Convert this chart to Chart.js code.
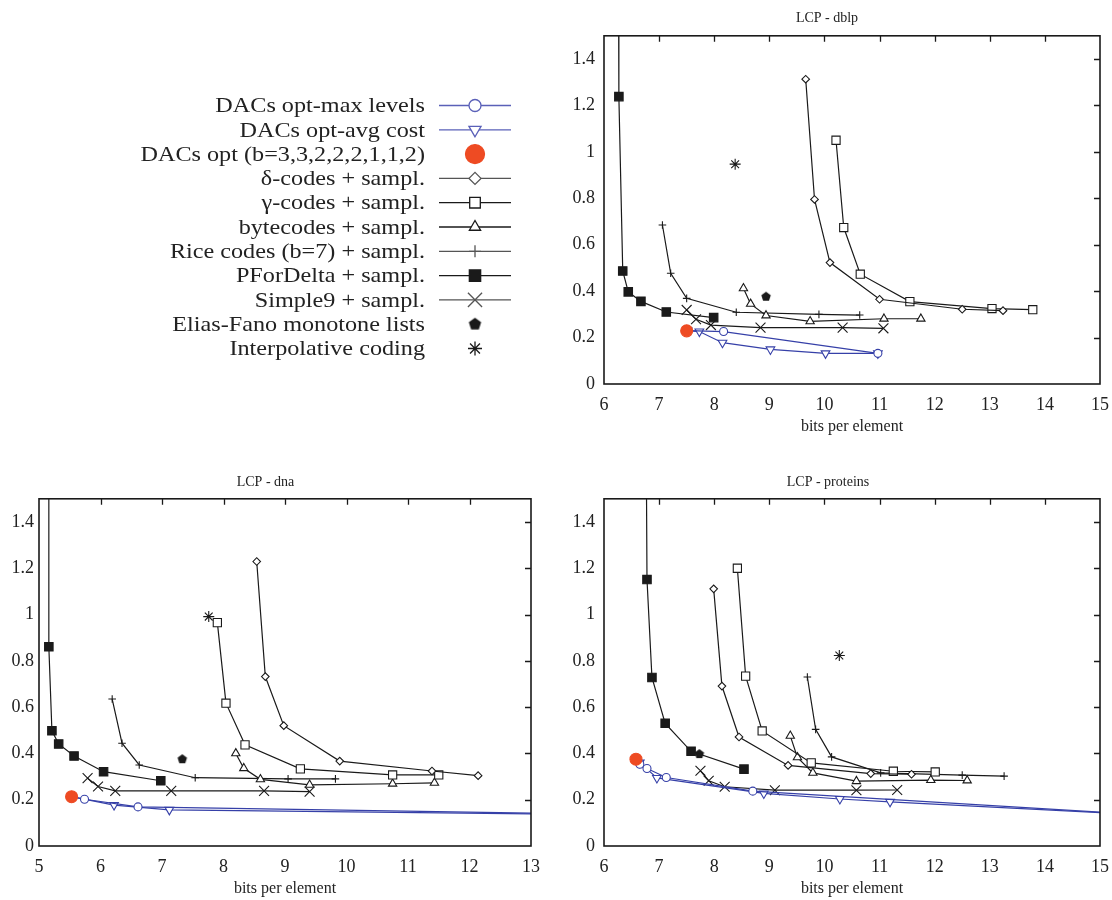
<!DOCTYPE html>
<html>
<head>
<meta charset="utf-8">
<script src="https://cdn.jsdelivr.net/npm/chart.js@4.4.1/dist/chart.umd.min.js"></script>
<style>
body { margin: 0; background: #fff; width: 1112px; height: 900px; position: relative; overflow: hidden; }
canvas { position: absolute; }
</style>
</head>
<body>
<canvas id="dblp" width="1112" height="450" style="left:0;top:0"></canvas>
<canvas id="dna" width="556" height="450" style="left:0;top:450px"></canvas>
<canvas id="proteins" width="556" height="450" style="left:556px;top:450px"></canvas>
<script>
// series names, same order in every panel
const seriesNames = ['DACs opt-max levels', 'DACs opt-avg cost', 'DACs opt (b=3,3,2,2,2,1,1,2)',
  'δ-codes + sampl.', 'γ-codes + sampl.', 'bytecodes + sampl.', 'Rice codes (b=7) + sampl.',
  'PForDelta + sampl.', 'Simple9 + sampl.', 'Elias-Fano monotone lists', 'Interpolative coding'];

const yTicks = [0, 0.2, 0.4, 0.6, 0.8, 1, 1.2, 1.4];

// LCP - dblp   [bits per element, time]
const dblpMaxLevels = [[7.52, 0.230], [8.17, 0.226], [10.97, 0.132]];
const dblpAvgCost = [[7.52, 0.230], [7.73, 0.226], [8.15, 0.178], [9.02, 0.149], [10.02, 0.132], [10.97, 0.132]];
const dblpDacsOpt = [[7.50, 0.229]];
const dblpDelta = [[9.66, 1.313], [9.82, 0.795], [10.10, 0.523], [11.00, 0.365], [12.50, 0.322], [13.24, 0.316]];
const dblpGamma = [[10.21, 1.050], [10.35, 0.674], [10.65, 0.473], [11.55, 0.355], [13.04, 0.325], [13.78, 0.320]];
const dblpByte = [[8.53, 0.412], [8.66, 0.345], [8.94, 0.295], [9.74, 0.270], [11.08, 0.281], [11.75, 0.281]];
const dblpRice = [[7.06, 0.685], [7.21, 0.477], [7.50, 0.369], [8.40, 0.309], [9.90, 0.300], [10.64, 0.297]];
const dblpPFor = [[6.26, 2.0], [6.27, 1.238], [6.34, 0.487], [6.44, 0.397], [6.67, 0.356], [7.13, 0.310], [7.99, 0.286]];
const dblpSimple9 = [[7.50, 0.319], [7.67, 0.279], [7.94, 0.254], [8.84, 0.243], [10.33, 0.243], [11.07, 0.240]];
const dblpEliasFano = [[8.94, 0.376]];
const dblpInterp = [[8.38, 0.947]];

// LCP - dna
const dnaMaxLevels = [[5.53, 0.213], [5.74, 0.202], [6.61, 0.169], [16, 0.130]];
const dnaAvgCost = [[5.53, 0.213], [6.22, 0.177], [7.12, 0.156], [16, 0.130]];
const dnaDacsOpt = [[5.53, 0.213]];
const dnaDelta = [[8.54, 1.229], [8.68, 0.732], [8.98, 0.520], [9.89, 0.367], [11.39, 0.324], [12.14, 0.304]];
const dnaGamma = [[7.90, 0.965], [8.04, 0.617], [8.35, 0.437], [9.25, 0.333], [10.75, 0.307], [11.50, 0.307]];
const dnaByte = [[8.20, 0.400], [8.33, 0.336], [8.60, 0.288], [9.40, 0.264], [10.75, 0.269], [11.43, 0.273]];
const dnaRice = [[6.19, 0.635], [6.35, 0.444], [6.63, 0.350], [7.54, 0.295], [9.05, 0.290], [9.82, 0.290]];
const dnaPFor = [[5.16, 2.0], [5.16, 0.861], [5.21, 0.498], [5.32, 0.441], [5.57, 0.389], [6.05, 0.321], [6.98, 0.282]];
const dnaSimple9 = [[5.79, 0.293], [5.96, 0.257], [6.24, 0.238], [7.15, 0.238], [8.66, 0.238], [9.40, 0.235]];
const dnaEliasFano = [[7.33, 0.375]];
const dnaInterp = [[7.76, 0.991]];

// LCP - proteins
const protMaxLevels = [[6.58, 0.375], [6.65, 0.353], [6.78, 0.335], [7.13, 0.296], [8.70, 0.237], [16, 0.132]];
const protAvgCost = [[6.58, 0.375], [6.65, 0.360], [6.96, 0.294], [8.90, 0.227], [10.28, 0.203], [11.19, 0.191], [16, 0.132]];
const protDacsOpt = [[6.58, 0.375]];
const protDelta = [[7.99, 1.111], [8.14, 0.691], [8.45, 0.471], [9.34, 0.348], [10.84, 0.313], [11.58, 0.310]];
const protGamma = [[8.42, 1.200], [8.57, 0.734], [8.87, 0.497], [9.76, 0.359], [11.25, 0.323], [12.01, 0.320]];
const protByte = [[9.38, 0.476], [9.51, 0.383], [9.79, 0.316], [10.58, 0.280], [11.93, 0.285], [12.59, 0.283]];
const protRice = [[9.69, 0.730], [9.84, 0.504], [10.13, 0.385], [11.02, 0.316], [12.50, 0.306], [13.26, 0.302]];
const protPFor = [[6.76, 2.0], [6.78, 1.151], [6.87, 0.728], [7.11, 0.530], [7.58, 0.409], [8.54, 0.332]];
const protSimple9 = [[7.75, 0.325], [7.90, 0.282], [8.19, 0.256], [9.10, 0.241], [10.58, 0.241], [11.32, 0.242]];
const protEliasFano = [[7.73, 0.397]];
const protInterp = [[10.27, 0.823]];

const SERIF = "'Liberation Serif', 'DejaVu Serif', serif";
const INK = '#1a1a1a';
const BLUE = '#3640a8';
const RED = '#ee4b23';

function pentagon(r) {
  const c = document.createElement('canvas');
  const s = Math.ceil(r * 2 + 2);
  c.width = s; c.height = s;
  const g = c.getContext('2d');
  g.fillStyle = INK;
  g.beginPath();
  for (let k = 0; k < 5; k++) {
    const a = -Math.PI / 2 + k * 2 * Math.PI / 5;
    g.lineTo(s / 2 + r * Math.cos(a), s / 2 + r * Math.sin(a));
  }
  g.closePath();
  g.fill();
  return c;
}

// marker look for each series (plot size r, legend size lr)
const looks = [
  { color: BLUE, point: 'circle', r: 4, lr: 6, fill: '#fff', line: true, legendColor: '#5a60b8' },
  { color: BLUE, point: 'triangle', rot: 180, r: 5, lr: 7, fill: '#fff', line: true, legendColor: '#5a60b8' },
  { color: RED, point: 'circle', r: 6, lr: 9.5, fill: RED, line: false },
  { color: INK, point: 'rectRot', r: 3.8, lr: 6, fill: '#fff', line: true, legendColor: '#555' },
  { color: INK, point: 'rect', r: 5.8, lr: 7.5, fill: '#fff', line: true },
  { color: INK, point: 'triangle', r: 4.8, lr: 6.5, fill: '#fff', line: true },
  { color: INK, point: 'cross', r: 3.8, lr: 6, line: true, legendColor: '#555' },
  { color: INK, point: 'rect', r: 6, lr: 8, fill: INK, line: true },
  { color: INK, point: 'crossRot', r: 7, lr: 10, line: true, legendColor: '#555' },
  { color: INK, point: pentagon(5), legendPoint: pentagon(6.5), line: false },
  { color: INK, point: 'star', r: 5.5, lr: 7, line: false }
];

function build(series) {
  return series.map((pts, i) => {
    const s = looks[i];
    return {
      label: seriesNames[i],
      data: pts.map(p => ({ x: p[0], y: p[1] })),
      showLine: s.line,
      borderColor: s.color,
      borderWidth: 1.2,
      pointStyle: s.point,
      pointRadius: s.r || 4,
      pointRotation: s.rot || 0,
      pointBackgroundColor: s.fill || 'rgba(0,0,0,0)',
      pointBorderColor: s.color,
      pointBorderWidth: 1.1,
      order: i === 2 ? -1 : i
    };
  });
}

// border box with inward ticks on top and right
const framePlugin = {
  id: 'frame',
  afterDatasetsDraw(chart) {
    const { ctx, chartArea: a, scales } = chart;
    ctx.save();
    ctx.strokeStyle = INK;
    ctx.lineWidth = 1.3;
    ctx.beginPath();
    scales.x.ticks.forEach(t => {
      if (t.value <= scales.x.min || t.value >= scales.x.max) return;
      const px = Math.round(scales.x.getPixelForValue(t.value)) + 0.5;
      ctx.moveTo(px, a.top); ctx.lineTo(px, a.top + 6);
    });
    scales.y.ticks.forEach(t => {
      if (t.value <= scales.y.min || t.value >= scales.y.max) return;
      const py = Math.round(scales.y.getPixelForValue(t.value)) + 0.5;
      ctx.moveTo(a.right, py); ctx.lineTo(a.right - 6, py);
    });
    ctx.stroke();
    ctx.lineWidth = 1.6;
    ctx.strokeRect(a.left, a.top, a.right - a.left, a.bottom - a.top);
    ctx.restore();
  }
};

// legend drawn to the left of the dblp panel
const legendPlugin = {
  id: 'sideLegend',
  afterDraw(chart) {
    const ctx = chart.ctx;
    ctx.save();
    ctx.textAlign = 'right';
    ctx.textBaseline = 'middle';
    seriesNames.forEach((name, i) => {
      const s = looks[i];
      const y = 105.5 + i * 24.3;
      ctx.save();
      ctx.font = '22px ' + SERIF;
      ctx.fillStyle = '#222';
      ctx.translate(425, y + 1);
      ctx.scale(1.1, 1);
      ctx.fillText(name, 0, 0);
      ctx.restore();
      if (s.line) {
        ctx.strokeStyle = s.legendColor || s.color;
        ctx.lineWidth = 1.3;
        ctx.beginPath();
        ctx.moveTo(439, y); ctx.lineTo(511, y);
        ctx.stroke();
      }
      ctx.strokeStyle = s.legendColor || s.color;
      ctx.fillStyle = s.fill || 'rgba(0,0,0,0)';
      ctx.lineWidth = 1.3;
      Chart.helpers.drawPoint(ctx, {
        pointStyle: s.legendPoint || s.point,
        radius: s.lr || 6,
        rotation: s.rot || 0,
        borderWidth: 1.3
      }, 475, y);
    });
    ctx.restore();
  }
};

function makeChart(id, title, series, xmin, xmax, yWidth, yPad, pad, titlePad, extraPlugins) {
  const tickFont = { family: SERIF, size: 18 };
  return new Chart(document.getElementById(id), {
    type: 'scatter',
    data: { datasets: build(series) },
    options: {
      responsive: false,
      animation: false,
      layout: { padding: pad, autoPadding: false },
      plugins: {
        legend: { display: false },
        tooltip: { enabled: false },
        title: {
          display: true, text: title, color: '#222',
          font: { family: SERIF, size: 14, weight: 'normal' },
          padding: titlePad
        }
      },
      scales: {
        x: {
          type: 'linear', min: xmin, max: xmax,
          grid: { display: false }, border: { display: false },
          ticks: { stepSize: 1, padding: 2, color: '#222', font: tickFont },
          title: { display: true, text: 'bits per element', color: '#222', padding: 0, font: { family: SERIF, size: 16 } },
          afterFit: s => { s.height = 52; }
        },
        y: {
          min: 0, max: 1.5,
          grid: { display: false }, border: { display: false },
          afterBuildTicks: s => { s.ticks = yTicks.map(v => ({ value: v })); },
          ticks: { padding: yPad, color: '#222', font: tickFont, callback: v => String(Math.round(v * 10) / 10) },
          afterFit: s => { s.width = yWidth; }
        }
      }
    },
    plugins: [framePlugin].concat(extraPlugins || [])
  });
}

makeChart('dblp', 'LCP - dblp',
  [dblpMaxLevels, dblpAvgCost, dblpDacsOpt, dblpDelta, dblpGamma, dblpByte, dblpRice, dblpPFor, dblpSimple9, dblpEliasFano, dblpInterp],
  6, 15, 50, 1, { left: 554, right: 12, top: 0, bottom: 14 }, { top: 10, bottom: 9 }, [legendPlugin]);

makeChart('dna', 'LCP - dna',
  [dnaMaxLevels, dnaAvgCost, dnaDacsOpt, dnaDelta, dnaGamma, dnaByte, dnaRice, dnaPFor, dnaSimple9, dnaEliasFano, dnaInterp],
  5, 13, 39, -3, { left: 0, right: 25, top: 0, bottom: 2 }, { top: 24, bottom: 8 });

makeChart('proteins', 'LCP - proteins',
  [protMaxLevels, protAvgCost, protDacsOpt, protDelta, protGamma, protByte, protRice, protPFor, protSimple9, protEliasFano, protInterp],
  6, 15, 48, 1, { left: 0, right: 12, top: 0, bottom: 2 }, { top: 24, bottom: 8 });
</script>
</body>
</html>
